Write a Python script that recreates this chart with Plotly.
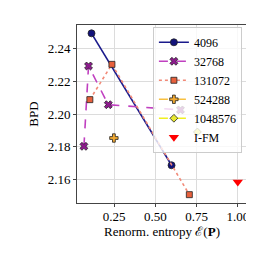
import plotly.graph_objects as go

series_names = ["4096", "32768", "131072", "524288", "1048576"]
x_4096 = [0.112, 0.598]
y_4096 = [2.2494, 2.1686]
x_32768 = [0.066, 0.094, 0.214, 0.652]
y_32768 = [2.1802, 2.2294, 2.2057, 2.2025]
x_131072 = [0.102, 0.236, 0.706]
y_131072 = [2.2088, 2.2304, 2.1506]
x_524288 = [0.248]
y_524288 = [2.1853]
x_1048576 = [0.755]
y_1048576 = [2.1890]
x_ifm = [1.0]
y_ifm = [2.1583]

xs = [x_4096, x_32768, x_131072, x_524288, x_1048576]
ys = [y_4096, y_32768, y_131072, y_524288, y_1048576]
line_colors = ["#1a1a8c", "#c040c0", "#f28a78", "#f8c040", "#f0f020"]
face_colors = ["#12127a", "#8e1a8e", "#e8603c", "#f0a830", "#e8e830"]
dashes = ["solid", "dash", "dot", "dashdot", "dashdot"]
symbols = ["circle", "x", "square", "cross", "diamond"]
sizes = [7, 7, 6, 7, 6]

FONT = "Liberation Serif"

fig = go.Figure()
for name, x, y, lc, fc, d, s, sz in zip(series_names, xs, ys, line_colors, face_colors, dashes, symbols, sizes):
    fig.add_trace(go.Scatter(
        x=x, y=y, name=name, mode="lines+markers",
        line=dict(color=lc, width=1.6, dash=d),
        marker=dict(symbol=s, size=sz, color=fc, line=dict(color="#222222", width=0.8)),
    ))
fig.add_trace(go.Scatter(
    x=x_ifm, y=y_ifm, name="I-FM", mode="markers",
    marker=dict(symbol="triangle-down", size=9, color="#ff0000"),
))

axis_common = dict(
    showgrid=True, gridcolor="#dcdcdc", gridwidth=1,
    showline=True, linecolor="#444444", linewidth=1, mirror=True,
    ticks="outside", ticklen=3, tickcolor="#444444",
    tickfont=dict(family=FONT, size=13, color="black"),
    zeroline=False,
)

fig.update_layout(
    width=246, height=246,
    margin=dict(l=69, r=5, t=17, b=51),
    paper_bgcolor="white", plot_bgcolor="white",
    font=dict(family=FONT, size=13, color="black"),
    xaxis=dict(range=[0.024, 1.056], tickvals=[0.25, 0.5, 0.75, 1.0],
               ticktext=["0.25", "0.50", "0.75", "1.00"], ticklabelstandoff=-2,
               **axis_common),
    yaxis=dict(range=[2.1455, 2.2545], tickvals=[2.16, 2.18, 2.20, 2.22, 2.24],
               ticktext=["2.16", "2.18", "2.20", "2.22", "2.24"],
               title=dict(text="BPD", font=dict(family=FONT, size=13), standoff=6),
               **axis_common),
    legend=dict(x=0.97, y=0.99, xanchor="right", yanchor="top",
                bgcolor="rgba(255,255,255,0.8)", bordercolor="#cccccc", borderwidth=1,
                font=dict(family=FONT, size=12), tracegroupgap=0),
    showlegend=True,
    annotations=[dict(text="Renorm. entropy ℰ(<b>P</b>)", xref="paper", yref="paper",
                      x=0.5, y=0, xanchor="center", yanchor="middle", yshift=-28,
                      showarrow=False, font=dict(family=FONT, size=13, color="black"))],
)

fig.write_html("out.html")
